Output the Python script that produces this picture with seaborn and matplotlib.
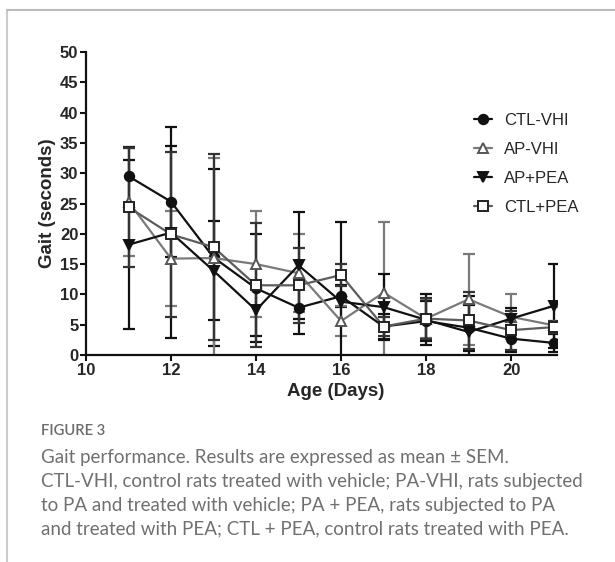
import matplotlib
matplotlib.use("Agg")
import matplotlib.pyplot as plt
from matplotlib.lines import Line2D
import seaborn as sns
import numpy as np

days = [11, 12, 13, 14, 15, 16, 17, 18, 19, 20, 21]

ctl_vhi = [29.5, 25.3, 16.1, 11.0, 7.8, 9.7, 4.7, 5.6, 4.5, 2.7, 2.0]
ctl_vhi_sem = [4.8, 9.2, 14.6, 8.9, 4.3, 1.8, 2.1, 3.3, 3.8, 2.2, 1.5]

ap_vhi = [25.3, 15.9, 16.0, 15.0, 13.5, 5.6, 10.3, 6.0, 9.2, 6.3, 4.9]
ap_vhi_sem = [8.9, 7.8, 16.5, 8.8, 6.4, 2.5, 11.6, 3.2, 7.5, 3.7, 3.0]

ap_pea = [18.2, 20.2, 13.9, 7.4, 14.8, 8.8, 7.9, 5.8, 3.8, 6.0, 8.1]
ap_pea_sem = [13.9, 17.4, 8.2, 4.2, 8.8, 13.2, 5.4, 4.2, 5.9, 1.8, 6.9]

ctl_pea = [24.4, 19.9, 17.8, 11.5, 11.5, 13.2, 4.7, 6.0, 5.7, 4.1, 4.6]
ctl_pea_sem = [9.8, 13.6, 15.3, 10.2, 6.2, 1.8, 1.5, 3.4, 4.7, 3.2, 1.0]

labels = ["CTL-VHI", "AP-VHI", "AP+PEA", "CTL+PEA"]
x_ticks = [10, 12, 14, 16, 18, 20]
y_ticks = [0, 5, 10, 15, 20, 25, 30, 35, 40, 45, 50]

caption_title = "FIGURE 3"
caption_lines = [
    "Gait performance. Results are expressed as mean \u00b1 SEM.",
    "CTL-VHI, control rats treated with vehicle; PA-VHI, rats subjected",
    "to PA and treated with vehicle; PA + PEA, rats subjected to PA",
    "and treated with PEA; CTL + PEA, control rats treated with PEA.",
]

sns.set_style("ticks")
plt.rcParams["font.family"] = ["Liberation Sans", "DejaVu Sans"]

W, H = 615, 562
fig = plt.figure(figsize=(W / 100, H / 100), dpi=100)
ax = fig.add_axes([86 / W, (H - 355) / H, (557 - 86) / W, (355 - 52) / H])

series = [
    (ctl_vhi, ctl_vhi_sem, dict(color="#111111", marker="o", mfc="#111111", mec="#111111", ecol="#111111")),
    (ap_vhi, ap_vhi_sem, dict(color="#7a7a7a", marker="^", mfc="white", mec="#555555", ecol="#7a7a7a")),
    (ap_pea, ap_pea_sem, dict(color="#111111", marker="v", mfc="#111111", mec="#111111", ecol="#111111")),
    (ctl_pea, ctl_pea_sem, dict(color="#5c5c5c", marker="s", mfc="white", mec="#222222", ecol="#333333")),
]

handles = []
for (vals, sem, st), lab in zip(series, labels):
    ax.errorbar(days, vals, yerr=sem, fmt="none", ecolor=st["ecol"],
                elinewidth=1.6, capsize=4, capthick=1.6, zorder=2)
    sns.lineplot(x=days, y=vals, ax=ax, color=st["color"], linewidth=1.6,
                 marker=st["marker"], markersize=6.8,
                 markerfacecolor=st["mfc"], markeredgecolor=st["mec"],
                 markeredgewidth=1.4, errorbar=None, zorder=3)
    handles.append(Line2D([0], [0], color=st["color"], linewidth=1.6,
                          marker=st["marker"], markersize=6.8,
                          markerfacecolor=st["mfc"], markeredgecolor=st["mec"],
                          markeredgewidth=1.4, label=lab))

ax.set_xlim(10, 21.08)
ax.set_ylim(0, 50)
ax.set_xticks(x_ticks)
ax.set_xticklabels([str(t) for t in x_ticks])
ax.set_yticks(y_ticks)
ax.set_yticklabels([str(t) for t in y_ticks])
for lab in ax.get_xticklabels() + ax.get_yticklabels():
    lab.set_fontweight("bold")
    lab.set_fontsize(12)
ax.tick_params(axis="both", width=1.5, length=4, pad=1.5, color="#111111")
for s in ["top", "right"]:
    ax.spines[s].set_visible(False)
for s in ["left", "bottom"]:
    ax.spines[s].set_linewidth(1.6)
    ax.spines[s].set_color("#111111")

ax.set_xlabel("Age (Days)", fontsize=13.5, fontweight="bold")
ax.set_ylabel("Gait (seconds)", fontsize=13.5, fontweight="bold")
ax.xaxis.set_label_coords((336 - 86) / (557 - 86), -37 / (355 - 52))
ax.yaxis.set_label_coords(-(86 - 47) / (557 - 86), 0.5)
ax.xaxis.label.set_va("center")
ax.yaxis.label.set_va("center")

fig.legend(handles=handles, loc="upper left",
           bbox_to_anchor=(474 / W, 1 - 113 / H), frameon=False,
           fontsize=12, handlelength=1.1, handletextpad=0.7,
           labelspacing=0.83, borderpad=0, borderaxespad=0)

# page frame lines
fig.add_artist(Line2D([7 / W, 7 / W], [0, 1 - 10 / H], color="#cccccc", linewidth=1.5))
fig.add_artist(Line2D([7 / W, 1], [1 - 10 / H, 1 - 10 / H], color="#bbbbbb", linewidth=1.5))

fig.text(41 / W, 1 - 431 / H, caption_title, fontsize=10.6, fontweight="semibold",
         color="#6b6b6b", family=["Lato", "DejaVu Sans"], va="center")
for i, line in enumerate(caption_lines):
    fig.text(41 / W, 1 - (457 + 24 * i) / H, line, fontsize=13.5,
             color="#707070", family=["Lato", "DejaVu Sans"], va="center")

fig.savefig("out.png", dpi=100)
